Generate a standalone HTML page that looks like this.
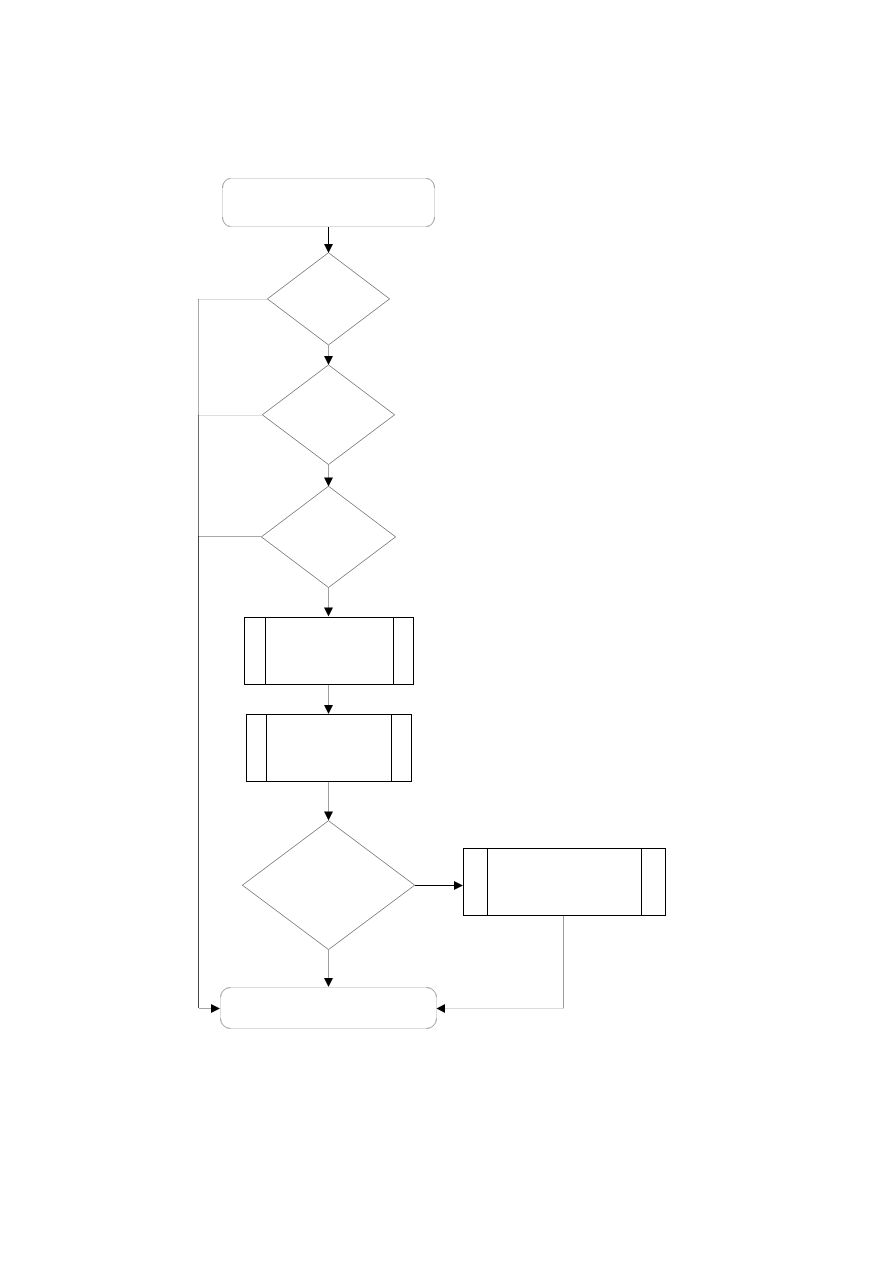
<!DOCTYPE html>
<html>
<head>
<meta charset="utf-8">
<style>
html,body{margin:0;padding:0;background:#fff;}
body{width:893px;height:1263px;overflow:hidden;font-family:"Liberation Sans",sans-serif;}
svg{display:block;position:absolute;left:0;top:0;}
</style>
</head>
<body>
<svg width="893" height="1263" viewBox="0 0 893 1263" xmlns="http://www.w3.org/2000/svg">
<rect x="0" y="0" width="893" height="1263" fill="#fff"/>

<!-- Start terminator -->
<g fill="none" stroke-width="1">
  <path d="M230.5 178.5 H426.5 M434.5 188 V217 M426.5 226.5 H230.5 M222.5 217 V188" stroke="#dcdcdc" shape-rendering="crispEdges"/>
  <path d="M426.5 178.5 A8 9.5 0 0 1 434.5 188 M434.5 217 A8 9.5 0 0 1 426.5 226.5 M230.5 226.5 A8 9.5 0 0 1 222.5 217 M222.5 188 A8 9.5 0 0 1 230.5 178.5" stroke="#000" stroke-width="0.4"/>
</g>

<!-- End terminator -->
<g fill="none" stroke-width="1">
  <path d="M230.5 987.5 H426.5 M436.5 997.5 V1018.5 M426.5 1028.5 H230.5 M220.5 1018.5 V997.5" stroke="#dcdcdc" shape-rendering="crispEdges"/>
  <path d="M426.5 987.5 A10 10 0 0 1 436.5 997.5 M436.5 1018.5 A10 10 0 0 1 426.5 1028.5 M230.5 1028.5 A10 10 0 0 1 220.5 1018.5 M220.5 997.5 A10 10 0 0 1 230.5 987.5" stroke="#000" stroke-width="0.4"/>
</g>

<!-- Diamonds -->
<g fill="none" stroke="#000" stroke-width="0.5">
  <path d="M328.5 252.7 L389.6 298.9 L328.5 345 L267.4 298.9 Z"/>
  <path d="M328.5 364.9 L394.6 414.8 L328.5 464.5 L262.3 414.8 Z"/>
  <path d="M328.5 486.2 L395.6 536.9 L328.5 587.5 L261.4 536.9 Z"/>
  <path d="M328.5 820.7 L414.7 885.2 L328.5 949.6 L242.4 885.2 Z"/>
</g>

<!-- Processes (black) -->
<g fill="none" stroke="#000" stroke-width="1" shape-rendering="crispEdges">
  <rect x="244.5" y="617.5" width="169" height="67"/>
  <path d="M265.5 617.5 V684.5 M393.5 617.5 V684.5"/>
  <rect x="246.5" y="714.5" width="165" height="67"/>
  <path d="M266.5 714.5 V781.5 M391.5 714.5 V781.5"/>
  <rect x="463.5" y="848.5" width="202" height="67"/>
  <path d="M487.5 848.5 V915.5 M641.5 848.5 V915.5"/>
  <!-- black connectors -->
  <path d="M328.5 227 V245"/>
  <path d="M415 885.5 H455"/>
</g>

<!-- gray connectors -->
<g fill="none" stroke-width="1" shape-rendering="crispEdges">
  <path d="M328.5 345 V357 M328.5 465 V478 M328.5 588 V608 M328.5 685 V705 M328.5 782 V812 M328.5 950 V979" stroke="#a0a0a0"/>
  <path d="M563.5 916 V1008" stroke="#9a9a9a"/>
  <path d="M445 1008.5 H564" stroke="#dadada"/>
  <!-- left feedback line -->
  <path d="M198.5 299 V415" stroke="#aaaaaa"/>
  <path d="M198.5 415 V536" stroke="#6e6e6e"/>
  <path d="M198.5 536 V1008" stroke="#464646"/>
  <path d="M199 1008.5 H211" stroke="#a5a5a5"/>
  <path d="M198 299.5 H267" stroke="#000" stroke-opacity="0.137"/>
  <path d="M198 415.5 H262" stroke="#000" stroke-opacity="0.13"/>
  <path d="M198 536.5 H261" stroke="#000" stroke-opacity="0.34"/>
</g>

<!-- arrowheads -->
<g fill="#000" stroke="none">
  <polygon points="324,244 333,244 328.5,253"/>
  <polygon points="324,356 333,356 328.5,365"/>
  <polygon points="324,477.5 333,477.5 328.5,486.5"/>
  <polygon points="324,607.5 333,607.5 328.5,616.5"/>
  <polygon points="324,705 333,705 328.5,714"/>
  <polygon points="324,811.5 333,811.5 328.5,820.5"/>
  <polygon points="324,978 333,978 328.5,987"/>
  <polygon points="454,881 454,890 463,885.5"/>
  <polygon points="211,1004 211,1013 220,1008.5"/>
  <polygon points="445,1004 445,1013 436.5,1008.5"/>
</g>
</svg>
</body>
</html>
